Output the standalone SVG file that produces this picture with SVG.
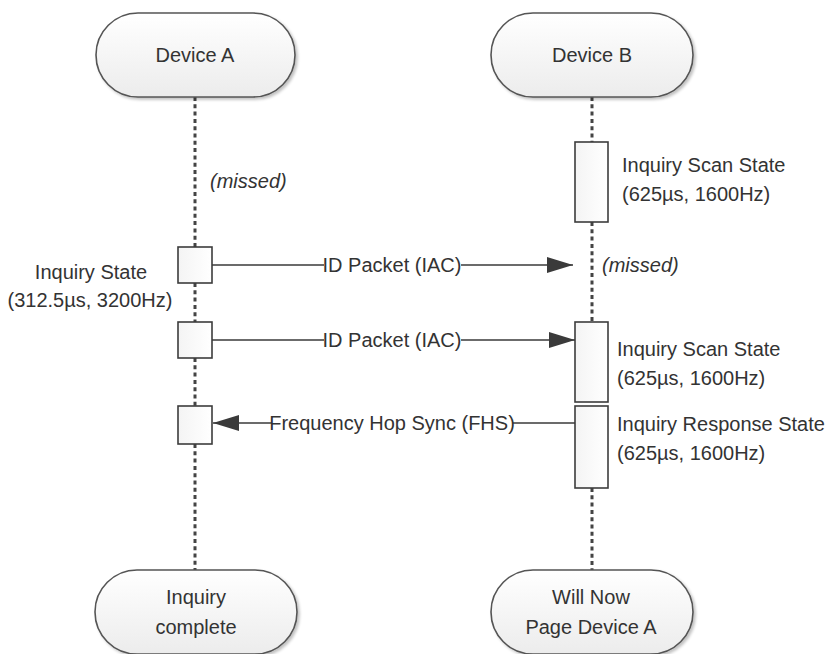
<svg xmlns="http://www.w3.org/2000/svg" width="828" height="654" viewBox="0 0 828 654">
  <defs>
    <linearGradient id="gTerm" x1="0" y1="0" x2="0" y2="1">
      <stop offset="0" stop-color="#ffffff"/>
      <stop offset="1" stop-color="#ececec"/>
    </linearGradient>
    <linearGradient id="gAct" x1="0" y1="0" x2="1" y2="0">
      <stop offset="0" stop-color="#f4f4f4"/>
      <stop offset="1" stop-color="#ffffff"/>
    </linearGradient>
    <marker id="arrow" viewBox="0 0 26 16" refX="26" refY="8" markerWidth="26" markerHeight="16" markerUnits="userSpaceOnUse" orient="auto">
      <path d="M0,0 L26,8 L0,16 Z" fill="#3a3a3a"/>
    </marker>
    <filter id="shadow" x="-10%" y="-10%" width="125%" height="130%">
      <feGaussianBlur in="SourceAlpha" stdDeviation="1.5"/>
      <feOffset dx="2" dy="2" result="b"/>
      <feComponentTransfer><feFuncA type="linear" slope="0.25"/></feComponentTransfer>
      <feMerge><feMergeNode/><feMergeNode in="SourceGraphic"/></feMerge>
    </filter>
  </defs>
  <style>
    text { font-family: "Liberation Sans", Arial, sans-serif; font-size: 20px; fill: #333333; }
    .mid { text-anchor: middle; }
    .it { font-style: italic; }
    .term { fill: url(#gTerm); stroke: #555555; stroke-width: 1.6; }
    .act { fill: url(#gAct); stroke: #3c3c3c; stroke-width: 1.6; }
    .life { stroke: #444444; stroke-width: 3; stroke-dasharray: 4 3.3; fill: none; }
    .msg { stroke: #3a3a3a; stroke-width: 1.6; fill: none; }
    .lblbg { fill: #ffffff; }
  </style>

  <g id="lifelines">
    <path class="life" d="M195,97 V247 M195,283 V322 M195,358 V406 M195,444 V570"/>
    <path class="life" d="M592,97 V142 M592,222 V322 M592,488 V570"/>
  </g>

  <g id="device-a">
    <rect class="term" x="96" y="13" width="199" height="84" rx="42" ry="42" filter="url(#shadow)"/>
    <text class="mid" x="195" y="62">Device A</text>
  </g>
  <g id="device-b">
    <rect class="term" x="491" y="13" width="202" height="84" rx="42" ry="42" filter="url(#shadow)"/>
    <text class="mid" x="592" y="62">Device B</text>
  </g>

  <g id="missed-a">
    <text class="it" x="210" y="188">(missed)</text>
  </g>

  <g id="scan-b1">
    <rect class="act" x="575" y="142" width="33" height="80"/>
    <text x="622" y="172">Inquiry Scan State</text>
    <text x="622" y="201">(625µs, 1600Hz)</text>
  </g>

  <g id="inquiry-a1">
    <rect class="act" x="178" y="247" width="34" height="36"/>
    <text class="mid" x="91" y="279">Inquiry State</text>
    <text class="mid" x="90" y="307">(312.5µs, 3200Hz)</text>
  </g>

  <g id="missed-b">
    <text class="it" x="602" y="272">(missed)</text>
  </g>

  <g id="inquiry-a2">
    <rect class="act" x="178" y="322" width="34" height="36"/>
  </g>
  <g id="scan-b2">
    <rect class="act" x="575" y="322" width="33" height="80"/>
    <text x="617" y="356">Inquiry Scan State</text>
    <text x="617" y="385">(625µs, 1600Hz)</text>
  </g>

  <g id="inquiry-a3">
    <rect class="act" x="178" y="406" width="34" height="38"/>
  </g>
  <g id="response-b3">
    <rect class="act" x="575" y="406" width="33" height="82"/>
    <text x="617" y="431">Inquiry Response State</text>
    <text x="617" y="460">(625µs, 1600Hz)</text>
  </g>

  <g id="inquiry-complete">
    <rect class="term" x="95" y="570" width="202" height="84" rx="42" ry="42" filter="url(#shadow)"/>
    <text class="mid" x="196" y="604">Inquiry</text>
    <text class="mid" x="196" y="634">complete</text>
  </g>
  <g id="will-page">
    <rect class="term" x="491" y="570" width="202" height="84" rx="42" ry="42" filter="url(#shadow)"/>
    <text class="mid" x="591" y="604">Will Now</text>
    <text class="mid" x="591" y="634">Page Device A</text>
  </g>

  <g id="connectors">
    <line class="msg" x1="212" y1="265" x2="573" y2="265" marker-end="url(#arrow)"/>
    <rect class="lblbg" x="324" y="252" width="137" height="26"/>
    <text class="mid" x="392" y="272">ID Packet (IAC)</text>

    <line class="msg" x1="212" y1="340" x2="575" y2="340" marker-end="url(#arrow)"/>
    <rect class="lblbg" x="324" y="327" width="137" height="26"/>
    <text class="mid" x="392" y="347">ID Packet (IAC)</text>

    <line class="msg" x1="575" y1="423" x2="213" y2="423" marker-end="url(#arrow)"/>
    <rect class="lblbg" x="272" y="410" width="241" height="26"/>
    <text class="mid" x="392" y="430">Frequency Hop Sync (FHS)</text>
  </g>
</svg>
